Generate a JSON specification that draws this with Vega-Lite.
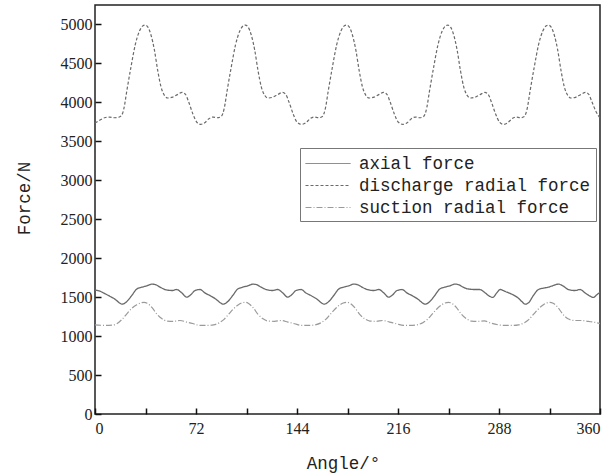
{
  "$schema": "https://vega.github.io/schema/vega-lite/v6.json",
  "width": 505,
  "height": 409,
  "autosize": "none",
  "padding": {"left": 95, "top": 5, "right": 16, "bottom": 59},
  "background": "white",
  "datasets": {
    "discharge": [
      [0,3735],[3.2,3769],[6.8,3803],[10.3,3812],[13.9,3803],[17.4,3812],[19.7,3860],[20.7,3930],[22.7,4150],[25.7,4460],[28.7,4740],[31.7,4915],[34.2,4983],[35.7,4992],[37.7,4966],[40,4859],[42.4,4667],[44.7,4410],[47.1,4196],[49.5,4090],[51.9,4056],[55.4,4068],[59,4103],[62.1,4128],[64.5,4103],[66.8,4004],[69.7,3855],[72.5,3748],
      [75.2,3718],[78.2,3738],[81.2,3790],[84.2,3812],[87.2,3803],[89.7,3815],[91.2,3860],[92.2,3930],[94.2,4150],[97.2,4460],[100.2,4740],[103.2,4915],[105.7,4983],[107.2,4992],[109.2,4966],[111.5,4859],[113.9,4667],[116.2,4410],[118.6,4196],[121,4090],[123.4,4056],[126.9,4068],[130.5,4103],[133.6,4128],[136,4103],[138.3,4004],[141.2,3855],[144,3748],
      [147.3,3718],[150.3,3738],[153.3,3790],[156.3,3812],[159.3,3803],[161.8,3815],[163.3,3860],[164.3,3930],[166.3,4150],[169.3,4460],[172.3,4740],[175.3,4915],[177.8,4983],[179.3,4992],[181.3,4966],[183.6,4859],[186,4667],[188.3,4410],[190.7,4196],[193.1,4090],[195.5,4056],[199,4068],[202.6,4103],[205.7,4128],[208.1,4103],[210.4,4004],[213.3,3855],[216.1,3748],
      [219.5,3718],[222.5,3738],[225.5,3790],[228.5,3812],[231.5,3803],[234,3815],[235.5,3860],[236.5,3930],[238.5,4150],[241.5,4460],[244.5,4740],[247.5,4915],[250,4983],[251.5,4992],[253.5,4966],[255.8,4859],[258.2,4667],[260.5,4410],[262.9,4196],[265.3,4090],[267.7,4056],[271.2,4068],[274.8,4103],[277.9,4128],[280.3,4103],[282.6,4004],[285.5,3855],[288.3,3748],
      [291.2,3718],[294.2,3738],[297.2,3790],[300.2,3812],[303.2,3803],[305.7,3815],[307.2,3860],[308.2,3930],[310.2,4150],[313.2,4460],[316.2,4740],[319.2,4915],[321.7,4983],[323.2,4992],[325.2,4966],[327.5,4859],[329.9,4667],[332.2,4410],[334.6,4196],[337,4090],[339.4,4056],[342.9,4068],[346.5,4103],[349.6,4128],[352,4103],[354.3,4004],[357.2,3880],[360,3800]
    ],
    "axial": [
      [0,1590],[3,1580],[6.3,1552],[10.5,1512],[14.5,1470],[17,1432],[19.3,1410],[21,1420],[22.7,1444],[26.2,1521],[29.8,1605],[33.3,1628],[36.9,1645],[40.5,1667],[42.9,1662],[46.4,1628],[50,1598],[54.7,1585],[58.3,1598],[61.8,1555],[65.4,1500],[68.2,1530],[71.3,1585],
      [74.9,1598],[78.3,1555],[82.5,1515],[86.5,1470],[89,1432],[91.3,1410],[93,1420],[94.7,1444],[98.2,1521],[101.8,1605],[105.3,1628],[108.9,1645],[112.5,1667],[114.9,1662],[118.4,1628],[122,1598],[126.7,1585],[130.3,1598],[133.8,1555],[137.4,1500],[140.2,1530],[143.3,1585],
      [146.9,1598],[150.3,1555],[154.5,1515],[158.5,1470],[161,1432],[163.3,1410],[165,1420],[166.7,1444],[170.2,1521],[173.8,1605],[177.3,1628],[180.9,1645],[184.5,1667],[186.9,1662],[190.4,1628],[194,1598],[198.7,1585],[202.3,1598],[205.8,1555],[209.4,1500],[212.2,1530],[215.3,1585],
      [218.9,1598],[222.3,1555],[226.5,1515],[230.5,1470],[233,1432],[235.3,1410],[237,1420],[238.7,1444],[242.2,1521],[245.8,1605],[249.3,1628],[252.9,1645],[256.5,1667],[258.9,1662],[262.4,1628],[266,1605],[270.7,1598],[274.3,1598],[277.8,1560],[281.4,1510],[283.5,1496],[286.4,1555],
      [288.8,1598],[292.4,1573],[297.1,1538],[301.8,1487],[304.5,1440],[306.6,1410],[309,1427],[312.5,1521],[316.1,1598],[319.6,1615],[323.2,1628],[326.8,1650],[330.3,1667],[333.9,1641],[337.4,1598],[342.2,1585],[345.8,1598],[349.3,1555],[352.9,1513],[355.3,1496],[357.7,1530],[360,1564]
    ],
    "suction": [
      [0,1145],[4,1139],[8,1137],[12,1140],[15.5,1158],[19,1210],[22.7,1286],[26.2,1355],[29.8,1402],[32.5,1425],[35,1434],[37.2,1422],[40.7,1365],[44.2,1280],[47.8,1222],[51.5,1193],[56,1190],[60.5,1200],[65.5,1180],[70.3,1158],
      [75,1137],[80,1137],[84.5,1145],[89,1175],[92,1215],[95,1275],[98.5,1345],[102,1400],[104.5,1425],[107,1434],[109.2,1422],[112.7,1365],[116.2,1280],[119.8,1222],[123.5,1193],[128,1190],[132.5,1200],[137.5,1180],[142.3,1158],
      [147.5,1137],[152.5,1137],[157,1145],[161.5,1175],[164.5,1215],[167.5,1275],[171,1345],[174.5,1400],[177,1425],[179.5,1434],[181.7,1422],[185.2,1365],[188.7,1280],[192.3,1222],[196,1193],[200.5,1190],[205,1200],[210,1180],[214.8,1158],
      [220,1137],[225,1137],[229.5,1145],[234,1175],[237,1215],[240,1275],[243.5,1345],[247,1400],[249.5,1425],[252,1434],[254.2,1422],[257.7,1365],[261.2,1280],[264.8,1222],[268.5,1193],[273,1190],[277.5,1195],[282.5,1165],[287.3,1145],
      [292.4,1137],[297.4,1137],[301.9,1145],[306.4,1175],[309.4,1215],[312.4,1275],[315.9,1345],[319.4,1400],[321.9,1425],[324.4,1434],[326.6,1422],[330.1,1365],[333.6,1280],[337.2,1222],[342,1200],[347,1200],[351.7,1188],[356.4,1176],[360,1160]
    ]
  },
  "layer": [
    {
      "data": {"name": "axial"},
      "transform": [
        {"calculate": "datum[0]", "as": "angle"},
        {"calculate": "datum[1]", "as": "force"},
        {"calculate": "'axial force'", "as": "series"}
      ],
      "mark": {"type": "line", "interpolate": "monotone", "strokeWidth": 1.3},
      "encoding": {
        "x": {"field": "angle", "type": "quantitative"},
        "y": {"field": "force", "type": "quantitative"},
        "color": {"field": "series", "type": "nominal"},
        "strokeDash": {"field": "series", "type": "nominal"}
      }
    },
    {
      "data": {"name": "discharge"},
      "transform": [
        {"calculate": "datum[0]", "as": "angle"},
        {"calculate": "datum[1]", "as": "force"},
        {"calculate": "'discharge radial force'", "as": "series"}
      ],
      "mark": {"type": "line", "interpolate": "monotone", "strokeWidth": 1.2},
      "encoding": {
        "x": {"field": "angle", "type": "quantitative"},
        "y": {"field": "force", "type": "quantitative"},
        "color": {"field": "series", "type": "nominal"},
        "strokeDash": {"field": "series", "type": "nominal"}
      }
    },
    {
      "data": {"name": "suction"},
      "transform": [
        {"calculate": "datum[0]", "as": "angle"},
        {"calculate": "datum[1]", "as": "force"},
        {"calculate": "'suction radial force'", "as": "series"}
      ],
      "mark": {"type": "line", "interpolate": "monotone", "strokeWidth": 1.2},
      "encoding": {
        "x": {
          "field": "angle", "type": "quantitative",
          "scale": {"domain": [0, 360], "nice": false, "zero": false},
          "axis": {
            "title": "Angle/°",
            "values": [0,36,72,108,144,180,216,252,288,324,360],
            "labelExpr": "datum.value % 72 === 0 ? datum.label : ''",
            "domain": false,
            "ticks": true,
            "tickSize": 6,
            "offset": -6,
            "labelPadding": 6,
            "titleX": 248,
            "titleY": 60,
            "titleBaseline": "alphabetic",
            "titleAlign": "center"
          }
        },
        "y": {
          "field": "force", "type": "quantitative",
          "scale": {"domain": [0, 5250], "nice": false},
          "axis": {
            "title": "Force/N",
            "values": [0,250,500,750,1000,1250,1500,1750,2000,2250,2500,2750,3000,3250,3500,3750,4000,4250,4500,4750,5000],
            "labelExpr": "datum.value % 500 === 0 ? datum.label : ''",
            "domain": false,
            "ticks": true,
            "tickSize": 6,
            "offset": -6,
            "labelPadding": 3,
            "titleX": -77,
            "titleY": 193,
            "titleBaseline": "middle",
            "titleAlign": "center",
            "format": "d"
          }
        },
        "color": {
          "field": "series", "type": "nominal",
          "scale": {"domain": ["axial force", "discharge radial force", "suction radial force"], "range": ["#6a6a6a", "#6a6a6a", "#9a9a9a"]},
          "legend": {
            "orient": "none", "legendX": 205, "legendY": 143, "title": null,
            "symbolType": "M-1,0H3.5", "symbolSize": 400, "symbolStrokeWidth": 1,
            "labelFont": "Liberation Mono", "labelFontSize": 17.5, "labelColor": "#222", "labelLimit": 500,
            "strokeColor": "#777", "fillColor": "white", "padding": 5, "rowPadding": 3, "labelOffset": 33
          }
        },
        "strokeDash": {
          "field": "series", "type": "nominal",
          "scale": {"domain": ["axial force", "discharge radial force", "suction radial force"], "range": [[1,0],[3,2],[6,2,1,2]]},
          "legend": {
            "orient": "none", "legendX": 205, "legendY": 143, "title": null,
            "symbolType": "M-1,0H3.5", "symbolSize": 400, "symbolStrokeWidth": 1,
            "labelFont": "Liberation Mono", "labelFontSize": 17.5, "labelColor": "#222", "labelLimit": 500,
            "strokeColor": "#777", "fillColor": "white", "padding": 5, "rowPadding": 3, "labelOffset": 33
          }
        }
      }
    }
  ],
  "config": {
    "view": {"stroke": "#222", "strokeWidth": 1.5},
    "axis": {
      "grid": false,
      "tickColor": "#111", "tickWidth": 1.5,
      "labelFont": "Liberation Serif", "labelFontSize": 16, "labelColor": "#222",
      "titleFont": "Liberation Mono", "titleFontSize": 17.5, "titleFontWeight": "normal", "titleColor": "#222"
    }
  }
}
